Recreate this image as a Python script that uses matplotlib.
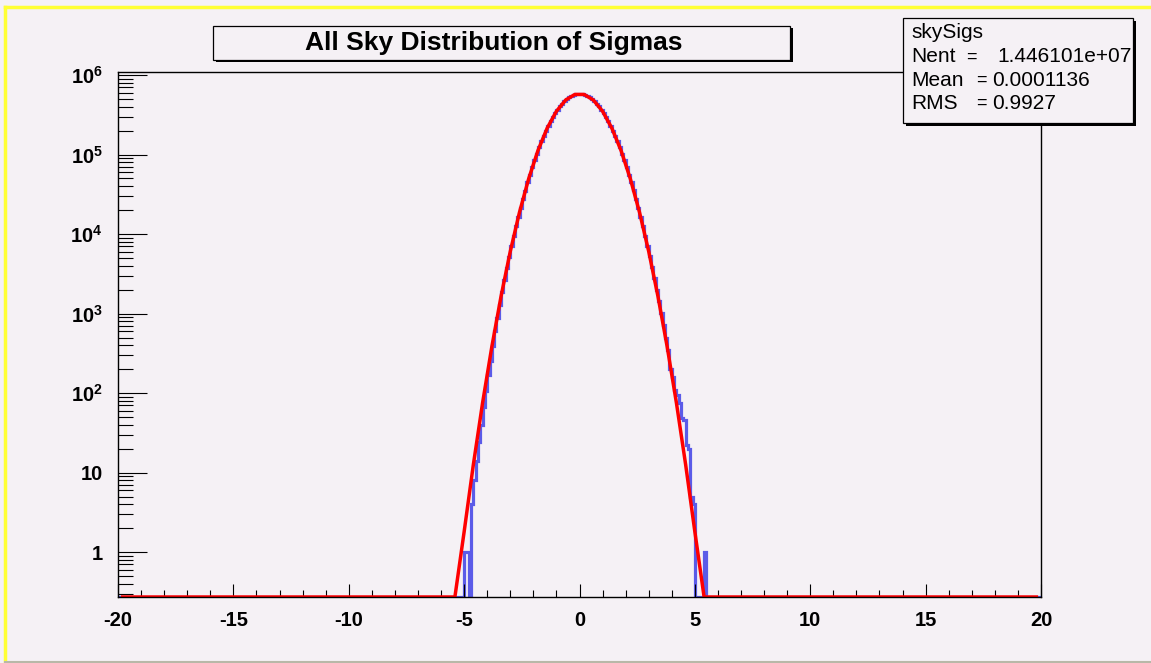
import numpy as np
import matplotlib.pyplot as plt
from matplotlib.patches import Rectangle
from matplotlib.lines import Line2D
from matplotlib.ticker import FixedLocator, LogLocator, NullFormatter

plt.rcParams['font.family'] = ['Liberation Sans', 'DejaVu Sans']
plt.rcParams['mathtext.default'] = 'regular'
plt.rcParams['axes.unicode_minus'] = False

# skySigs: 400 bins on [-20, 20]; only the filled stretch from -5.0 is listed
n_bins = 400
x_lo, x_hi = -20.0, 20.0
first_edge = -5.0
counts = [
    1, 1, 0, 4, 8, 14, 24, 40, 66, 105,
    168, 255, 395, 600, 880, 1290, 1880, 2680, 3740, 5150,
    7010, 9420, 12480, 16470, 21380, 27580, 35260, 44480, 55650, 68870,
    84350, 102300, 122800, 145900, 171700, 199900, 230400, 262900, 296900, 332100,
    367600, 402700, 436800, 468900, 498300, 524300, 546000, 562900, 574400, 580300,
    580200, 574300, 562800, 546100, 524200, 498400, 468800, 436900, 402600, 367700,
    332000, 297100, 263000, 230300, 200000, 171600, 146000, 122900, 102300, 84400,
    68950, 55700, 44550, 35300, 27640, 21430, 16520, 12540, 9480, 7080,
    5220, 3820, 2770, 2000, 1430, 1010, 715, 495, 345, 200,
    160, 110, 95, 75, 48, 46, 22, 20, 5, 4,
    0, 0, 0, 0, 1,
]

# gaus fit as sampled for drawing (bin centres of the 100-point TF1 histogram)
fit_x = [-19.8, -5.4, -5.0, -4.6, -4.2, -3.8, -3.4, -3.0, -2.6, -2.2, -1.8, -1.4, -1.0, -0.6, -0.2,
         0.2, 0.6, 1.0, 1.4, 1.8, 2.2, 2.6, 3.0, 3.4, 3.8, 4.2, 4.6, 5.0, 5.4, 19.8]
fit_y = [0, 0.218, 1.80, 12.6, 75.4, 382, 1647, 6039, 18820, 49860, 112300, 214900, 349800, 484000, 569300,
         569300, 484000, 349800, 214900, 112300, 49860, 18820, 6039, 1647, 382, 75.4, 12.6, 1.80, 0.218, 0]

stats_names = ['Nent', 'Mean', 'RMS']
stats_vals = ['1.446101e+07', '0.0001136', '0.9927']

x_ticks = [-20, -15, -10, -5, 0, 5, 10, 15, 20]
y_ticks = [1, 10, 1e2, 1e3, 1e4, 1e5, 1e6]
y_labels = ['1', '10', '$10^{2}$', '$10^{3}$', '$10^{4}$', '$10^{5}$', '$10^{6}$']

y_floor = 0.273
y_top = 1.09e6

bg = '#f5f1f5'
W, H = 1151, 663

fig = plt.figure(figsize=(W / 100, H / 100), dpi=100, facecolor=bg)


def fx(px):
    return px / W


def fy(py):
    return 1 - py / H


ax = fig.add_axes([fx(118), fy(597), fx(1041) - fx(118), fy(72) - fy(597)])
ax.set_facecolor(bg)

edges = np.linspace(x_lo, x_hi, n_bins + 1)
full = np.zeros(n_bins)
start = int(round((first_edge - x_lo) / (edges[1] - edges[0])))
full[start:start + len(counts)] = counts
ax.stairs(np.maximum(full, y_floor), edges, baseline=None, color='#5b5be8', lw=2.3)

ax.plot(fit_x, np.maximum(fit_y, y_floor), color='#ff0000', lw=2.5)

ax.set_yscale('log')
ax.set_xlim(x_lo, x_hi)
ax.set_ylim(y_floor, y_top)

ax.set_xticks(x_ticks)
ax.set_xticklabels([str(v) for v in x_ticks], fontweight='bold', fontsize=14.5)
ax.xaxis.set_minor_locator(FixedLocator(list(range(-20, 21))))
ax.set_yticks(y_ticks)
ax.set_yticklabels(y_labels, fontweight='bold', fontsize=14.5)
ax.yaxis.set_minor_locator(LogLocator(base=10, subs=np.arange(2, 10) * 1.0, numticks=20))
ax.yaxis.set_minor_formatter(NullFormatter())

ax.tick_params(axis='both', which='both', direction='in', top=False, right=False, color='black')
ax.tick_params(axis='y', which='major', length=20.6, width=0.8, pad=11)
ax.tick_params(axis='y', which='minor', length=10.8, width=0.8)
ax.tick_params(axis='x', which='major', length=9.7, width=0.8, pad=10)
ax.tick_params(axis='x', which='minor', length=4.7, width=0.8)
for sp in ax.spines.values():
    sp.set_linewidth(1.0)
    sp.set_color('black')

# title pave with its shadow
fig.add_artist(Rectangle((fx(216), fy(62)), fx(790) - fx(213), fy(26) - fy(60),
                         transform=fig.transFigure, facecolor='black', edgecolor='none', zorder=5))
fig.add_artist(Rectangle((fx(213), fy(60)), fx(790) - fx(213), fy(26) - fy(60),
                         transform=fig.transFigure, facecolor=bg, edgecolor='black', lw=0.9, zorder=6))
fig.text(fx(494), fy(43), 'All Sky Distribution of Sigmas', ha='center', va='center',
         fontsize=19, fontweight='bold', zorder=7)

# stats box
fig.add_artist(Rectangle((fx(906), fy(126)), fx(1133) - fx(903), fy(18) - fy(123),
                         transform=fig.transFigure, facecolor='black', edgecolor='none', zorder=5))
fig.add_artist(Rectangle((fx(903), fy(123)), fx(1133) - fx(903), fy(18) - fy(123),
                         transform=fig.transFigure, facecolor=bg, edgecolor='black', lw=0.9, zorder=6))
fig.text(fx(911), fy(32), 'skySigs', ha='left', va='center', fontsize=15, zorder=7)
eq_x = [966, 976, 976]
val_x = [997, 992, 992]
for i, (name, val) in enumerate(zip(stats_names, stats_vals)):
    yy = fy(57 + 23.3 * i)
    fig.text(fx(911), yy, name, ha='left', va='center', fontsize=15, zorder=7)
    fig.text(fx(eq_x[i]), yy, '=', ha='left', va='center', fontsize=13, zorder=7)
    fig.text(fx(val_x[i]), yy, val, ha='left', va='center', fontsize=15, zorder=7)

# canvas border
fig.add_artist(Line2D([fx(5), fx(5)], [fy(6.5), fy(661)], transform=fig.transFigure,
                      color='#ffff33', lw=2.5, zorder=8))
fig.add_artist(Line2D([fx(5), fx(W)], [fy(6.5), fy(6.5)], transform=fig.transFigure,
                      color='#ffff33', lw=2.5, zorder=8))
fig.add_artist(Line2D([fx(5), fx(W)], [fy(661.5), fy(661.5)], transform=fig.transFigure,
                      color='#b8b8a8', lw=1.5, zorder=8))

fig.savefig('out.png', dpi=100, facecolor=bg)
